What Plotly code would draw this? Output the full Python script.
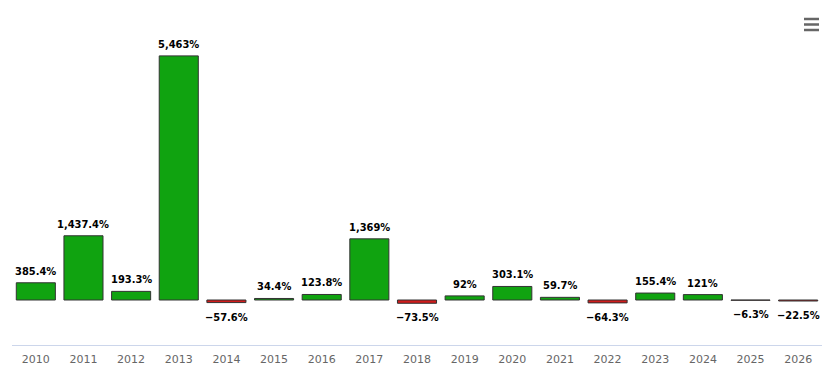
import plotly.graph_objects as go

years = ["2010", "2011", "2012", "2013", "2014", "2015", "2016", "2017", "2018",
         "2019", "2020", "2021", "2022", "2023", "2024", "2025", "2026"]
growth = [385.4, 1437.4, 193.3, 5463, -57.6, 34.4, 123.8, 1369, -73.5,
          92, 303.1, 59.7, -64.3, 155.4, 121, -6.3, -22.5]

GREEN = "#10a310"
RED = "#d01c1c"


def fmt(v):
    s = f"{abs(v):,.1f}"
    if s.endswith(".0"):
        s = s[:-2]
    return ("\u2212" if v < 0 else "") + s + "%"


labels = [fmt(v) for v in growth]
colors = [GREEN if v >= 0 else RED for v in growth]

fig = go.Figure(go.Bar(
    x=years, y=growth,
    marker=dict(color=colors, line=dict(color="#333333", width=1)),
    cliponaxis=False,
    hoverinfo="x+y",
))

# category axis: annotation x given as the category index
for idx, (v, lab) in enumerate(zip(growth, labels)):
    fig.add_annotation(
        x=idx, y=v, text=lab, showarrow=False,
        yanchor="bottom" if v >= 0 else "top",
        yshift=3 if v >= 0 else -6,
        font=dict(family="DejaVu Sans Condensed", size=11, color="#000000", weight="bold"),
    )

# page body has an 8px margin: shrink figure so plot area lands where the reference has it
fig.update_layout(
    width=830, height=366,
    margin=dict(l=4, r=16, t=2, b=29),
    paper_bgcolor="white", plot_bgcolor="white",
    bargap=0.18,
    showlegend=False,
    xaxis=dict(
        type="category", showgrid=False, zeroline=False,
        range=[-0.5, len(years) - 0.5],
        showline=True, linecolor="#ccd6eb", linewidth=1,
        ticks="outside", ticklen=4, tickcolor="rgba(0,0,0,0)",
        tickfont=dict(family="DejaVu Sans", size=11, color="#666666"),
    ),
    yaxis=dict(range=[-1007, 6490], visible=False, showgrid=False, zeroline=False),
)

# menu (hamburger) icon at top right
for yy in (19, 24.5, 30):
    fig.add_shape(type="line", xref="paper", yref="paper",
                  x0=(804 - 12) / 810, x1=(819 - 12) / 810,
                  y0=(345 - yy) / 335, y1=(345 - yy) / 335,
                  line=dict(color="#666666", width=2.5))

fig.write_html("out.html")
